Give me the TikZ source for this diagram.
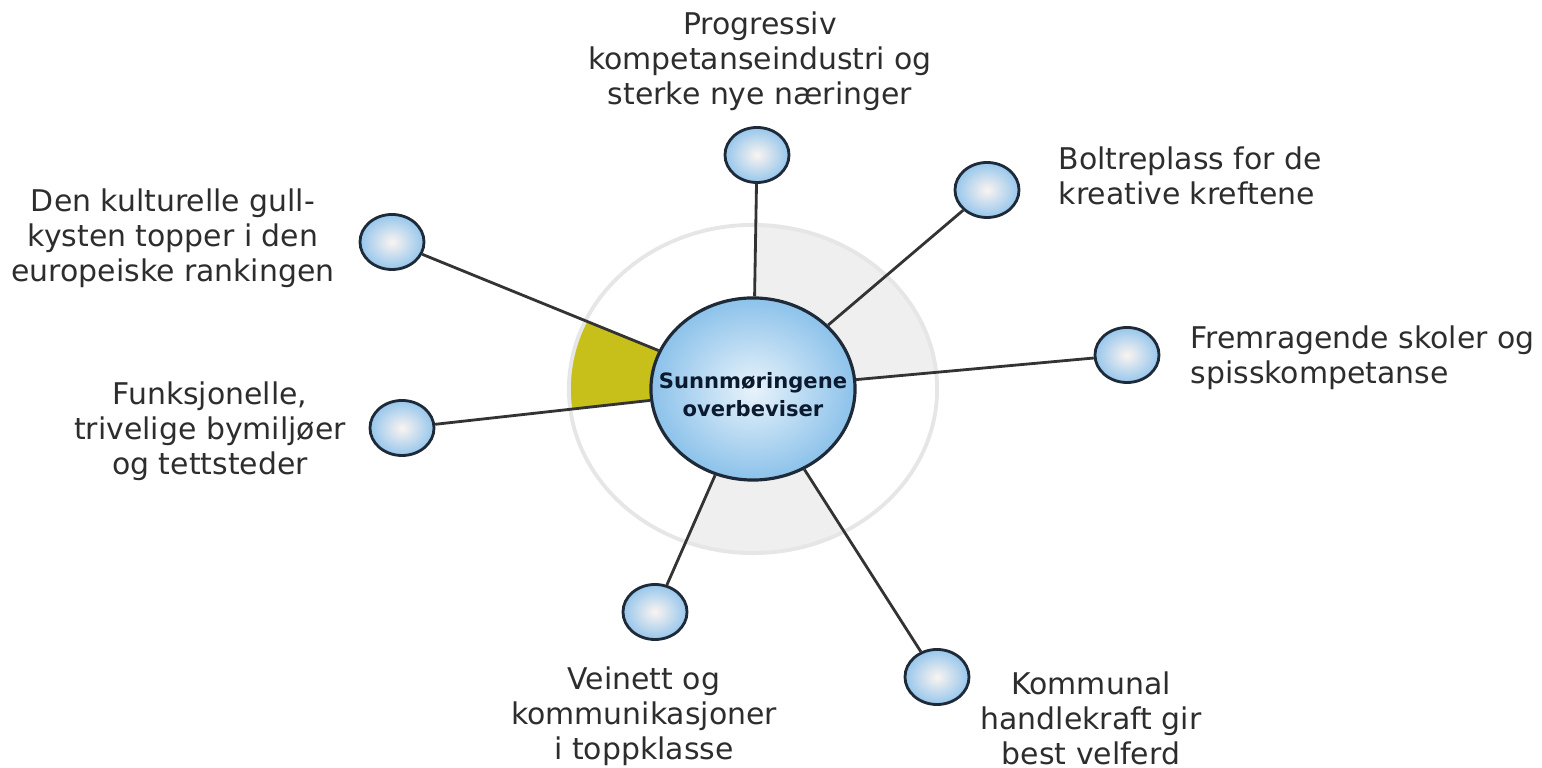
\documentclass[tikz,border=0pt]{standalone}
\usepackage{fontspec}
\setmainfont{DejaVu Sans}
\usetikzlibrary{shapes.geometric,backgrounds}
\definecolor{spokegray}{RGB}{51,51,51}
\definecolor{ringgray}{RGB}{230,230,230}
\definecolor{sectorgray}{RGB}{239,239,239}
\definecolor{sectoryellow}{RGB}{200,192,26}
\definecolor{bubbleedge}{RGB}{30,42,56}
\definecolor{bubblein}{RGB}{250,244,240}
\definecolor{bubbleout}{RGB}{150,198,236}
\definecolor{hubin}{RGB}{232,243,251}
\definecolor{hubout}{RGB}{140,194,234}
\definecolor{hubtext}{RGB}{12,26,48}
\definecolor{txtgray}{RGB}{45,45,45}

\begin{document}
\begin{tikzpicture}[x=0.01cm,y=-0.01cm]
			\tikzset{edge/.style = {draw=spokegray, line width=0.8pt}}
			\tikzset{point/.style = {ellipse, draw=bubbleedge, line width=0.8pt, inner sep=0pt, minimum width=0.64cm, minimum height=0.55cm, inner color=bubblein, outer color=bubbleout}}
			\tikzset{hub/.style = {ellipse, draw=bubbleedge, line width=0.9pt, inner sep=0pt, minimum width=2.04cm, minimum height=1.82cm, inner color=hubin, outer color=hubout}}
			\tikzset{hubtxt/.style = {inner sep=0pt, align=center, font=\fontsize{6}{8}\selectfont\bfseries, text=hubtext}}
			\tikzset{txt/.style = {inner sep=0pt, align=center, anchor=north, font=\fontsize{8.5}{10}\selectfont, text=txtgray}}

			\useasboundingbox (0,0) rectangle (1542,768);

			\node[hub] (hub) at (753,389) {};
			\node[hubtxt] (hubt) at (753,395) {Sunnmøringene\\overbeviser};
			\node[point] (n1) at (757,155) {};
			\node[point] (n2) at (987,190) {};
			\node[point] (n3) at (1127,355) {};
			\node[point] (n4) at (937,677) {};
			\node[point] (n5) at (655,612) {};
			\node[point] (n6) at (402,428) {};
			\node[point] (n7) at (392,242) {};

			\node[txt] (l1) at (760,11) {Progressiv\\kompetanseindustri og\\sterke nye næringer};
			\node[txt, anchor=north west, align=left] (l2) at (1058,146) {Boltreplass for de\\kreative kreftene};
			\node[txt, anchor=north west, align=left] (l3) at (1190,325) {Fremragende skoler og\\spisskompetanse};
			\node[txt] (l4) at (1091,671) {Kommunal\\handlekraft gir\\best velferd};
			\node[txt] (l5) at (644,666) {Veinett og\\kommunikasjoner\\i toppklasse};
			\node[txt] (l6) at (210,381) {Funksjonelle,\\trivelige bymiljøer\\og tettsteder};
			\node[txt] (l7) at (173,188) {Den kulturelle gull-\\kysten topper i den\\europeiske rankingen};

			\draw[edge] (hub) -- (n1);
			\draw[edge] (hub) -- (n2);
			\draw[edge] (hub) -- (n3);
			\draw[edge] (hub) -- (n4);
			\draw[edge] (hub) -- (n5);
			\draw[edge] (hub) -- (n6);
			\draw[edge] (hub) -- (n7);

			\begin{scope}[on background layer]
				\begin{scope}
					\clip (hub.center) ellipse [x radius=1.84cm, y radius=1.64cm];
					\fill[sectorgray] (hub.center) -- (n1.center) -- (n2.center) -- (n3.center) -- cycle;
					\fill[sectorgray] (hub.center) -- (n5.center) -- (n4.center) -- cycle;
					\fill[sectoryellow] (hub.center) -- (n7.center) -- (n6.center) -- cycle;
				\end{scope}
				\draw[ringgray, line width=1.1pt] (hub.center) ellipse [x radius=1.84cm, y radius=1.64cm];
			\end{scope}
		\end{tikzpicture}
\end{document}
